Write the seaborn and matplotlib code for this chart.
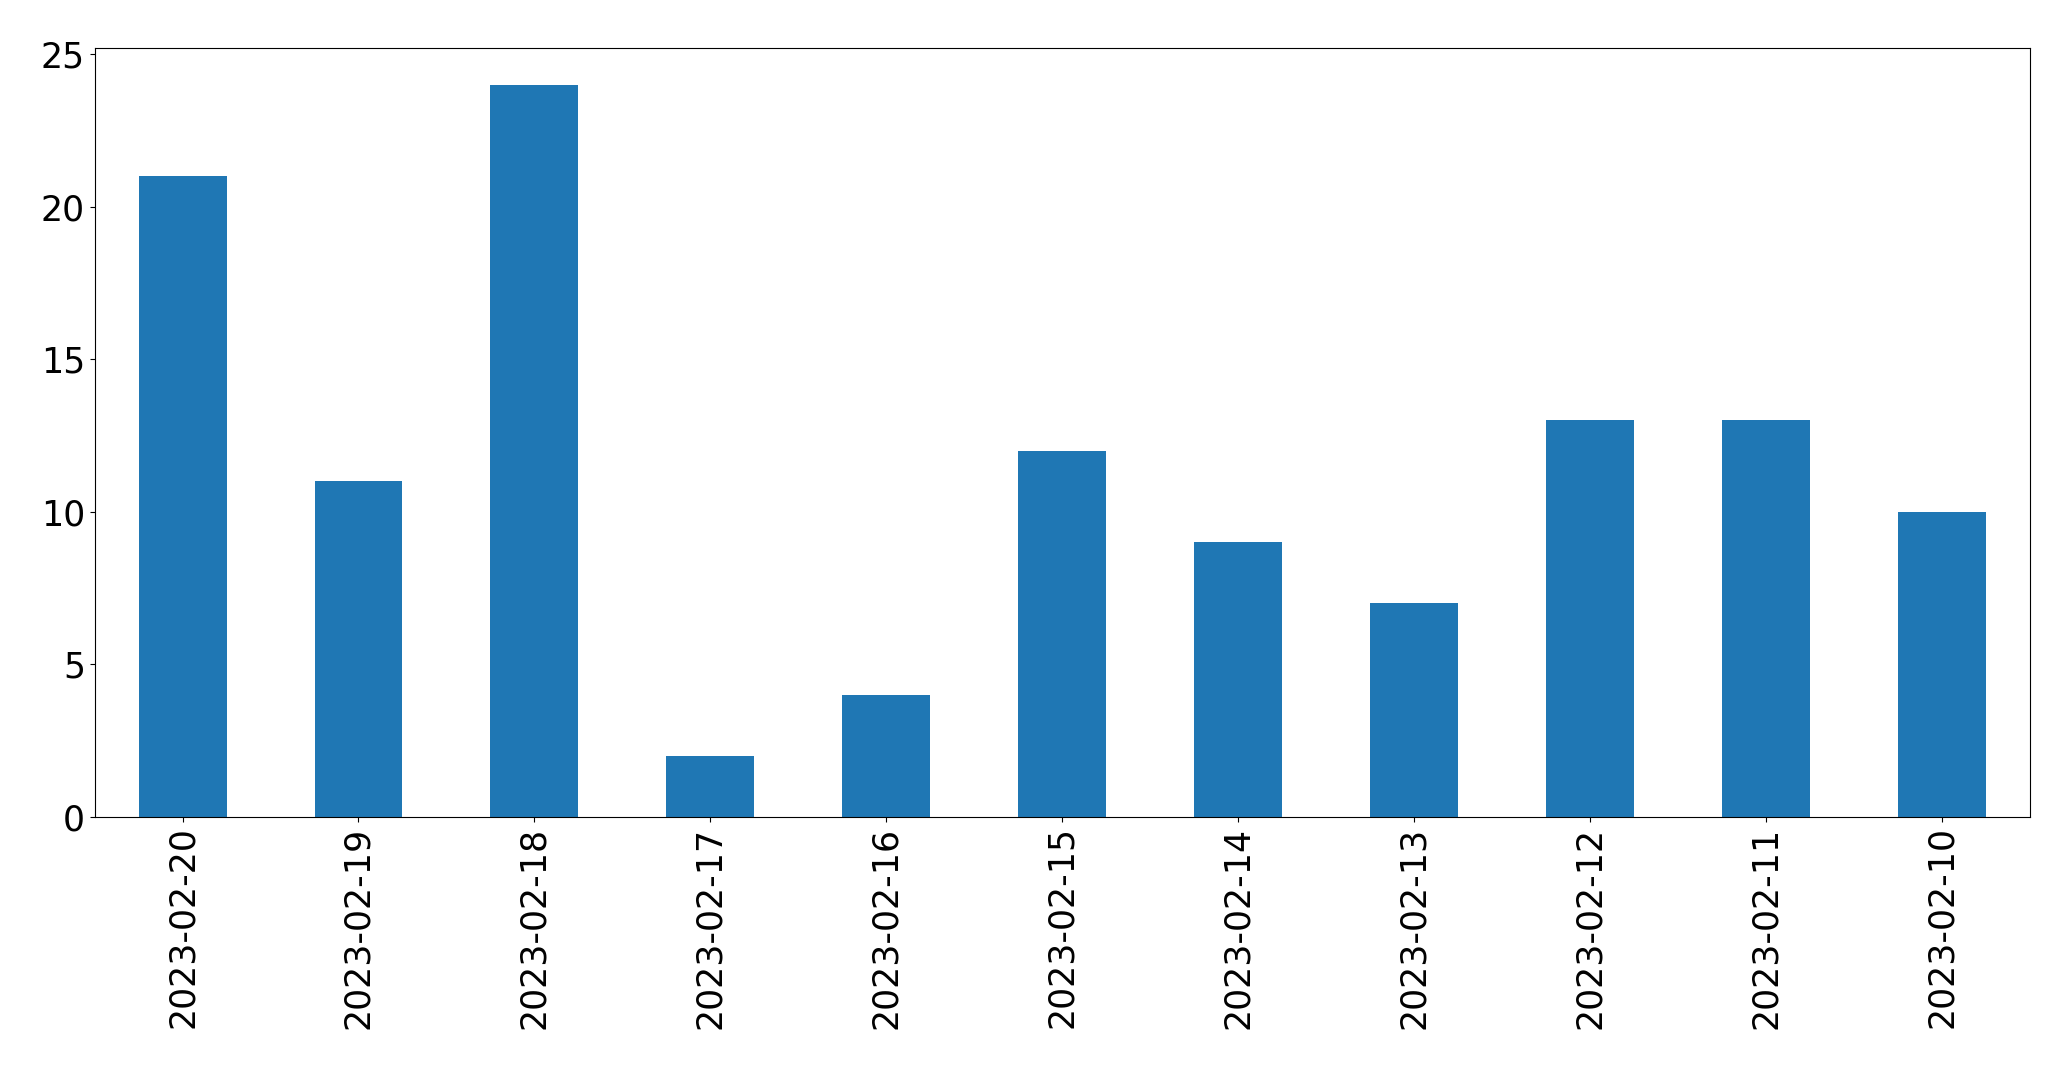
import matplotlib
matplotlib.use('Agg')
import matplotlib.pyplot as plt
import seaborn as sns
import pandas as pd

dates = ['2023-02-20', '2023-02-19', '2023-02-18', '2023-02-17', '2023-02-16', '2023-02-15',
         '2023-02-14', '2023-02-13', '2023-02-12', '2023-02-11', '2023-02-10']
counts = [21, 11, 24, 2, 4, 12, 9, 7, 13, 13, 10]

df = pd.DataFrame({'date': dates, 'count': counts})

fig, ax = plt.subplots(figsize=(20.71, 10.69), dpi=100)
sns.barplot(data=df, x='date', y='count', order=dates, color='#1f77b4',
            saturation=1, width=0.5, ax=ax)

ax.set_xlim(-0.5, len(dates) - 0.5)
ax.set_ylim(0, max(counts) * 1.05)
ax.set_xlabel('')
ax.set_ylabel('')
ax.tick_params(axis='x', labelrotation=90, labelsize=25)
ax.tick_params(axis='y', labelsize=25)
for s in ax.spines.values():
    s.set_visible(True)
    s.set_color('black')

plt.subplots_adjust(left=0.0457, right=0.980, bottom=0.236, top=0.955)
plt.savefig('out.png', dpi=100)
